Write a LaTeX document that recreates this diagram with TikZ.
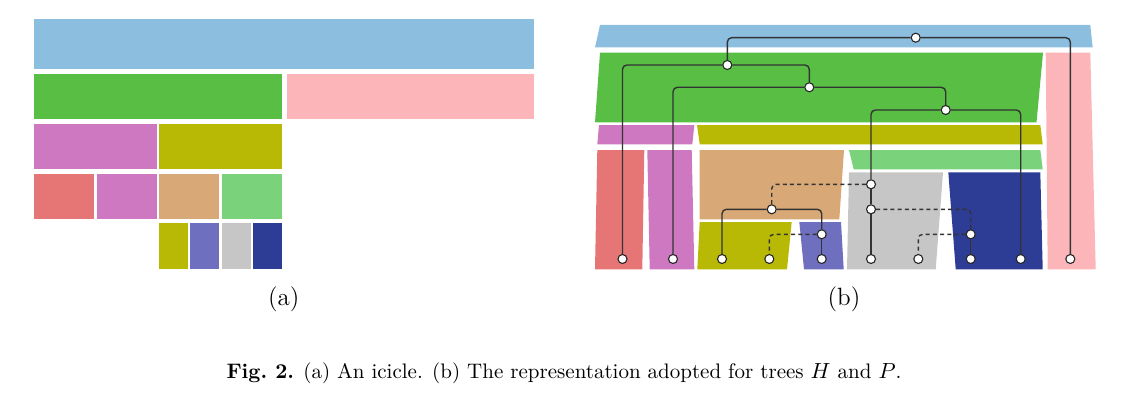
\documentclass[tikz,border=0pt]{standalone}
\definecolor{cBlue}{RGB}{140,190,224}
\definecolor{cGreen}{RGB}{88,191,68}
\definecolor{cPink}{RGB}{252,182,185}
\definecolor{cMag}{RGB}{205,120,192}
\definecolor{cOlive}{RGB}{184,185,4}
\definecolor{cRed}{RGB}{230,118,117}
\definecolor{cTan}{RGB}{217,168,119}
\definecolor{cLGreen}{RGB}{122,210,122}
\definecolor{cPurple}{RGB}{110,111,190}
\definecolor{cGray}{RGB}{197,198,197}
\definecolor{cNavy}{RGB}{45,60,148}
\begin{document}
\begin{tikzpicture}[x=0.5pt,y=-0.5pt,
  tnode/.style={circle,draw=black!85,fill=white,line width=0.55pt,inner sep=0pt,minimum size=4.5pt},
  link/.style={draw=black!80,line width=0.7pt,rounded corners=2.2pt},
  dlink/.style={link,dash pattern=on 2pt off 1.6pt},
  lbl/.style={font=\fontsize{12.5}{15}\selectfont,anchor=base,inner sep=0pt},
  captext/.style={font=\fontsize{10.5}{12.5}\selectfont,anchor=base,inner sep=0pt}]
\useasboundingbox (0,0) rectangle (1128,401);
% ---------- (a) icicle ----------
\fill[cBlue]   (33.5,19.3) rectangle (534.3,69.3);
\fill[cGreen]  (33.5,74) rectangle (282,119);
\fill[cPink]   (287,74) rectangle (534.3,119);
\fill[cMag]    (34,124) rectangle (157,169.3);
\fill[cOlive]  (159,124) rectangle (282,169.3);
\fill[cRed]    (34,174) rectangle (94.3,219.3);
\fill[cMag]    (96.7,174) rectangle (157,219.3);
\fill[cTan]    (159,174) rectangle (219.3,219.3);
\fill[cLGreen] (221.7,174) rectangle (282,219.3);
\fill[cOlive]  (159,223.3) rectangle (188,269.3);
\fill[cPurple] (190.3,223.3) rectangle (219.3,269.3);
\fill[cGray]   (221.7,223.3) rectangle (250.7,269.3);
\fill[cNavy]   (253,223.3) rectangle (282,269.3);
\node[lbl] (la) at (283.7,305.5) {(a)};
% ---------- (b) shapes ----------
\fill[cBlue]   (600,25) -- (1090.3,25) -- (1092.7,47.5) -- (595,47.5) -- cycle;
\fill[cGreen]  (600,52.7) -- (1043,52.7) -- (1036.5,122.3) -- (595,122.3) -- cycle;
\fill[cPink]   (1045.7,52.7) -- (1090.3,52.7) -- (1095.7,269.3) -- (1047.7,269.3) -- cycle;
\fill[cMag]    (599,125) -- (694.3,125) -- (692.3,144.3) -- (597.3,144.3) -- cycle;
\fill[cOlive]  (697,125) -- (1040.3,125) -- (1042.7,144.3) -- (699.7,144.3) -- cycle;
\fill[cRed]    (597.3,150) -- (644.3,150) -- (642.3,269.3) -- (595,269.3) -- cycle;
\fill[cMag]    (647.3,150) -- (691.7,150) -- (694.3,269.3) -- (649.7,269.3) -- cycle;
\fill[cTan]    (699.7,150) -- (844,150) -- (839.3,219.3) -- (699.7,219.3) -- cycle;
\fill[cLGreen] (849,150) -- (1040.3,150) -- (1042.7,169.3) -- (853.7,169.3) -- cycle;
\fill[cGray]   (849,172.3) -- (943,172.3) -- (935.7,269.3) -- (847,269.3) -- cycle;
\fill[cNavy]   (948.3,172.3) -- (1040.3,172.3) -- (1042.7,269.3) -- (955.7,269.3) -- cycle;
\fill[cOlive]  (699.7,222) -- (791.7,222) -- (787,269.3) -- (697.3,269.3) -- cycle;
\fill[cPurple] (799.3,222) -- (841,222) -- (843.7,269.3) -- (804,269.3) -- cycle;
% ---------- (b) tree nodes ----------
\node[tnode] (n0) at (915.7,37.7) {};
\node[tnode] (n1) at (727.3,65) {};
\node[tnode] (n2) at (809.3,87.3) {};
\node[tnode] (n3) at (945.7,110) {};
\node[tnode] (g1) at (871,184.3) {};
\node[tnode] (g2) at (871,209.3) {};
\node[tnode] (t1) at (771.7,209.3) {};
\node[tnode] (p1) at (821.7,234.3) {};
\node[tnode] (v1) at (970.7,234.3) {};
\node[tnode] (L1) at (622.5,259) {};
\node[tnode] (L2) at (673,259) {};
\node[tnode] (L3) at (722,259) {};
\node[tnode] (L4) at (769.3,259) {};
\node[tnode] (L5) at (821.7,259) {};
\node[tnode] (L6) at (871,259) {};
\node[tnode] (L7) at (918.3,259) {};
\node[tnode] (L8) at (970.7,259) {};
\node[tnode] (L9) at (1020.7,259) {};
\node[tnode] (L10) at (1070.3,259) {};
% ---------- (b) connectors ----------
\draw[link] (n0) -| (n1);
\draw[link] (n0) -| (L10);
\draw[link] (n1) -| (L1);
\draw[link] (n1) -| (n2);
\draw[link] (n2) -| (L2);
\draw[link] (n2) -| (n3);
\draw[link] (n3) -| (g1);
\draw[link] (n3) -| (L9);
\draw[link] (g1) -- (g2);
\draw[link] (g2) -- (L6);
\draw[dlink] (g1) -| (t1);
\draw[dlink] (g2) -| (v1);
\draw[link] (t1) -| (L3);
\draw[link] (t1) -| (p1);
\draw[dlink] (p1) -| (L4);
\draw[link] (p1) -- (L5);
\draw[dlink] (v1) -| (L7);
\draw[link] (v1) -- (L8);
\node[lbl] (lb) at (844,305.5) {(b)};
% ---------- caption ----------
\node[captext] (caption) at (564,378) {\textbf{Fig.\ 2.} (a) An icicle. (b) The representation adopted for trees $H$ and $P$.};
\end{tikzpicture}
\end{document}
